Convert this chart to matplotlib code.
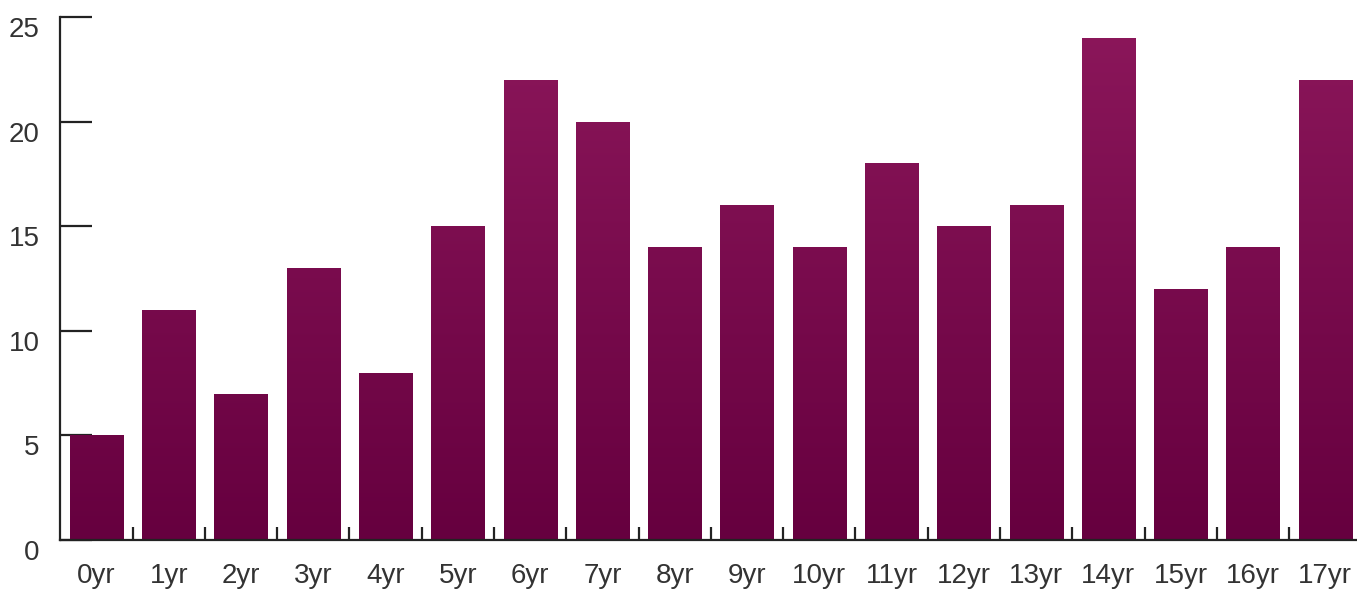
import matplotlib.pyplot as plt
import matplotlib.transforms as mtransforms
from matplotlib.colors import LinearSegmentedColormap
import numpy as np

labels = ['0yr', '1yr', '2yr', '3yr', '4yr', '5yr', '6yr', '7yr', '8yr', '9yr',
          '10yr', '11yr', '12yr', '13yr', '14yr', '15yr', '16yr', '17yr']
values = [5, 11, 7, 13, 8, 15, 22, 20, 14, 16, 14, 18, 15, 16, 24, 12, 14, 22]
yticks = [0, 5, 10, 15, 20, 25]

plt.rcParams['font.family'] = ['Liberation Sans', 'DejaVu Sans']
ink = '#222222'

fig = plt.figure(figsize=(13.57, 5.89), dpi=100)
ax = fig.add_axes([60 / 1357, 49 / 589, 1297 / 1357, 523 / 589])

x = np.arange(len(values))
bars = ax.bar(x, values, width=0.735, color='#6a0342', zorder=2)

# вертикальный градиент по всей высоте оси, обрезанный по столбцам
cmap = LinearSegmentedColormap.from_list('g', ['#66003f', '#8c175b'])
grad = np.linspace(0, 1, 256).reshape(-1, 1)
for b in bars:
    im = ax.imshow(grad, cmap=cmap, aspect='auto', origin='lower',
                   extent=[-0.6, 17.6, 0, 25], zorder=2)
    im.set_clip_path(b)

ax.set_xlim(-0.505, 17.44)
ax.set_ylim(0, 25)

for s in ['top', 'right']:
    ax.spines[s].set_visible(False)
for s in ['left', 'bottom']:
    ax.spines[s].set_color(ink)
    ax.spines[s].set_linewidth(1.6)
    ax.spines[s].set_zorder(3)

ax.set_yticks(yticks)
ax.set_yticklabels([str(t) for t in yticks], fontsize=20, color='#333333')
ax.tick_params(axis='y', direction='in', length=23, width=1.6, color=ink, pad=-4)
for lab in ax.get_yticklabels():
    lab.set_transform(lab.get_transform() +
                      mtransforms.ScaledTranslation(-0.26, -0.1, fig.dpi_scale_trans))

ax.set_xticks(x)
ax.set_xticklabels(labels, fontsize=20, color='#333333')
ax.tick_params(axis='x', which='major', length=0, pad=16.5)
ax.set_xticks(np.arange(0.5, 17, 1), minor=True)
ax.tick_params(axis='x', which='minor', direction='in', length=9.5, width=1.6, color=ink)

fig.savefig('out.png', dpi=100)
